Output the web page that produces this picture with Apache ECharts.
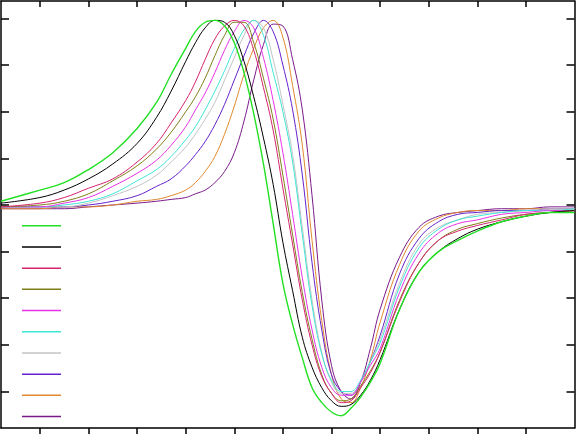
<!DOCTYPE html>
<html>
<head>
<meta charset="utf-8">
<script src="https://cdn.jsdelivr.net/npm/echarts@6/dist/echarts.min.js"></script>
<style>html,body{margin:0;padding:0;background:#fff}#c{width:576px;height:438px}</style>
</head>
<body>
<div id="c"></div>
<script>
// shared field positions (x axis units)
const xs = [0.2, 1, 1.5, 2, 2.5, 3, 3.4, 3.7, 4, 4.2, 4.4, 4.6, 4.8, 5, 5.2, 5.4, 5.6, 5.8, 6, 6.2, 6.4, 6.6, 6.8, 7, 7.2, 7.4, 7.6, 7.8, 8, 8.4, 8.8, 9.2, 9.6, 10, 10.5, 11, 11.5, 12];

const s1 = [0.02, 0.08, 0.12, 0.19, 0.28, 0.41, 0.55, 0.70, 0.84, 0.93, 0.98, 0.99, 0.96, 0.87, 0.71, 0.49, 0.22, -0.10, -0.42, -0.64, -0.82, -0.98, -1.06, -1.11, -1.13, -1.09, -1.03, -0.95, -0.85, -0.56, -0.36, -0.25, -0.19, -0.14, -0.09, -0.06, -0.04, -0.04];
const s2 = [0.01, 0.04, 0.08, 0.14, 0.22, 0.33, 0.47, 0.61, 0.77, 0.87, 0.95, 0.99, 0.98, 0.91, 0.77, 0.58, 0.36, 0.11, -0.20, -0.46, -0.71, -0.87, -0.98, -1.05, -1.08, -1.07, -1.02, -0.94, -0.83, -0.56, -0.36, -0.25, -0.18, -0.13, -0.09, -0.06, -0.04, -0.03];
const s3 = [-0.01, 0.01, 0.04, 0.09, 0.14, 0.23, 0.33, 0.44, 0.56, 0.66, 0.78, 0.89, 0.96, 0.99, 0.96, 0.83, 0.63, 0.40, 0.09, -0.21, -0.51, -0.75, -0.92, -1.01, -1.06, -1.05, -0.98, -0.90, -0.79, -0.52, -0.31, -0.19, -0.14, -0.11, -0.08, -0.05, -0.04, -0.03];
const s4 = [-0.01, 0.00, 0.02, 0.06, 0.13, 0.21, 0.30, 0.39, 0.50, 0.58, 0.68, 0.80, 0.91, 0.98, 0.98, 0.87, 0.68, 0.46, 0.16, -0.16, -0.47, -0.72, -0.91, -1.01, -1.05, -1.04, -0.97, -0.89, -0.79, -0.51, -0.31, -0.19, -0.13, -0.10, -0.07, -0.05, -0.04, -0.03];
const s5 = [-0.01, -0.01, 0.01, 0.04, 0.10, 0.17, 0.24, 0.32, 0.42, 0.51, 0.60, 0.71, 0.83, 0.93, 0.99, 0.95, 0.79, 0.56, 0.28, -0.05, -0.39, -0.67, -0.87, -0.98, -1.02, -1.02, -0.95, -0.86, -0.77, -0.47, -0.26, -0.15, -0.10, -0.08, -0.05, -0.04, -0.03, -0.03];
const s6 = [-0.01, -0.01, 0.00, 0.02, 0.06, 0.13, 0.19, 0.26, 0.35, 0.42, 0.51, 0.61, 0.72, 0.84, 0.94, 0.99, 0.91, 0.71, 0.50, 0.23, -0.16, -0.54, -0.80, -0.94, -1.00, -1.00, -0.94, -0.84, -0.74, -0.44, -0.23, -0.13, -0.08, -0.06, -0.04, -0.03, -0.03, -0.02];
const s7 = [-0.01, -0.01, -0.01, 0.01, 0.05, 0.10, 0.16, 0.23, 0.31, 0.38, 0.46, 0.55, 0.67, 0.79, 0.91, 0.99, 0.95, 0.78, 0.54, 0.27, -0.12, -0.51, -0.79, -0.95, -1.01, -1.01, -0.95, -0.84, -0.72, -0.42, -0.21, -0.12, -0.08, -0.05, -0.04, -0.03, -0.02, -0.02];
const s8 = [-0.01, -0.01, -0.01, 0.00, 0.02, 0.05, 0.10, 0.14, 0.21, 0.27, 0.34, 0.43, 0.54, 0.67, 0.80, 0.92, 0.99, 0.93, 0.75, 0.51, 0.16, -0.31, -0.67, -0.91, -1.00, -1.02, -0.95, -0.84, -0.70, -0.37, -0.18, -0.09, -0.05, -0.04, -0.03, -0.03, -0.02, -0.02];
const s9 = [-0.02, -0.02, -0.01, -0.01, 0.00, 0.02, 0.03, 0.05, 0.08, 0.12, 0.18, 0.26, 0.38, 0.53, 0.70, 0.84, 0.95, 0.99, 0.90, 0.64, 0.32, -0.19, -0.62, -0.91, -1.04, -1.06, -0.98, -0.83, -0.63, -0.32, -0.14, -0.07, -0.04, -0.03, -0.03, -0.02, -0.02, -0.02];
const s10 = [-0.02, -0.02, -0.02, -0.01, 0.00, 0.01, 0.02, 0.03, 0.04, 0.06, 0.08, 0.12, 0.18, 0.28, 0.45, 0.67, 0.86, 0.97, 0.96, 0.78, 0.51, 0.05, -0.51, -0.86, -1.00, -1.04, -0.95, -0.77, -0.56, -0.28, -0.12, -0.06, -0.04, -0.03, -0.02, -0.02, -0.01, -0.01];

const seriesNames = ['1', '2', '3', '4', '5', '6', '7', '8', '9', '10'];
const seriesValues = [s1, s2, s3, s4, s5, s6, s7, s8, s9, s10];
const colors = ['#22e022', '#000000', '#d6246e', '#7f7f1a', '#e632e6', '#3ee6d6', '#c4c4c4', '#6622cc', '#e08a2e', '#7a1a8a'];

const xTicks = [1, 2, 3, 4, 5, 6, 7, 8, 9, 10, 11];
const yTicks = [-1, -0.75, -0.5, -0.25, 0, 0.25, 0.5, 0.75, 1];

const chart = echarts.init(document.getElementById('c'));
const axisLine = { show: true, onZero: false, lineStyle: { color: '#000', width: 1.5 } };
function xAx(pos, inside) {
  return { type: 'value', position: pos, min: 0.2, max: 12,
    axisLine: axisLine, splitLine: { show: false }, axisLabel: { show: false },
    axisTick: { show: true, inside: inside, length: 6, customValues: xTicks, lineStyle: { color: '#000', width: 1.5 } } };
}
function yAx(pos) {
  return { type: 'value', position: pos, min: -1.196, max: 1.094,
    axisLine: axisLine, splitLine: { show: false }, axisLabel: { show: false },
    axisTick: { show: true, inside: true, length: 8, customValues: yTicks, lineStyle: { color: '#000', width: 1.5 } } };
}
chart.setOption({
  animation: false,
  backgroundColor: '#fff',
  grid: { left: 1, right: 1.5, top: 1, bottom: 10 },
  xAxis: [xAx('bottom', false), xAx('top', true)],
  yAxis: [yAx('left'), yAx('right')],
  legend: {
    orient: 'vertical', left: 22, top: 225, itemWidth: 39, itemHeight: 1.5, itemGap: 19.7,
    icon: 'rect', formatter: function () { return ''; },
    textStyle: { fontSize: 1, lineHeight: 1 }, padding: 0,
    data: seriesNames
  },
  series: seriesNames.map((n, i) => ({
    name: n, type: 'line', xAxisIndex: 0, yAxisIndex: 0,
    data: xs.map((x, j) => [x, seriesValues[i][j]]),
    smooth: 0.4, symbol: 'none', color: colors[i],
    lineStyle: { width: i === 0 ? 1.4 : 1, color: colors[i] },
    z: 10 - i
  }))
});
</script>
</body>
</html>
